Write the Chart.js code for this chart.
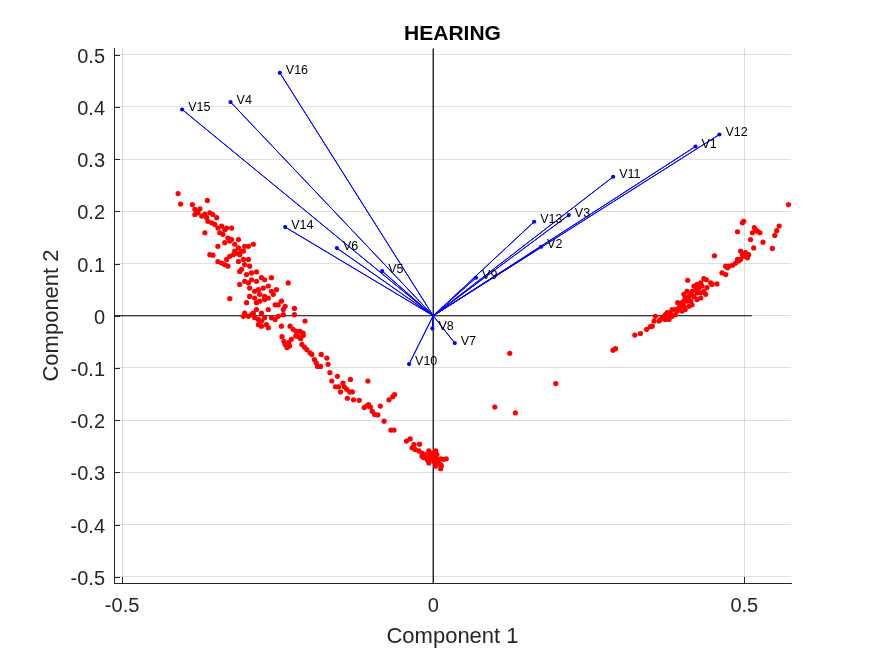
<!DOCTYPE html>
<html>
<head>
<meta charset="utf-8">
<script src="https://cdn.jsdelivr.net/npm/chart.js@4.4.1/dist/chart.umd.min.js"></script>
<style>
  html, body { margin: 0; padding: 0; background: #ffffff; }
  #wrap { width: 875px; height: 656px; }
</style>
</head>
<body>
<div id="wrap"><canvas id="c" width="875" height="656"></canvas></div>
<script>
// ---------------- DATA ----------------
const chartTitle = "HEARING";
const xAxisTitle = "Component 1";
const yAxisTitle = "Component 2";

const xTicks = [-0.5, 0, 0.5];
const xTickLabels = ["-0.5", "0", "0.5"];
const yTicks = [-0.5, -0.4, -0.3, -0.2, -0.1, 0, 0.1, 0.2, 0.3, 0.4, 0.5];
const yTickLabels = ["-0.5", "-0.4", "-0.3", "-0.2", "-0.1", "0", "0.1", "0.2", "0.3", "0.4", "0.5"];

const xLimits = [-0.513, 0.575];
const yLimits = [-0.512, 0.513];

// biplot reference axes (drawn through the origin)
const refAxis = [-0.512, 0.512];

// variable loadings (vectors)
const varNames = ["V1","V2","V3","V4","V5","V6","V7","V8","V9","V10","V11","V12","V13","V14","V15","V16"];
const loadX = [0.4215, 0.1734, 0.2179, -0.3257, -0.0820, -0.1548, 0.0346, -0.0013, 0.0689, -0.0388, 0.2892, 0.4600, 0.1622, -0.2379, -0.4035, -0.2465];
const loadY = [0.3243, 0.1322, 0.1929, 0.4094, 0.0856, 0.1297, -0.0523, -0.0243, 0.0728, -0.0925, 0.2663, 0.3473, 0.1801, 0.1699, 0.3952, 0.4655];

// observation scores [component1, component2]
const scores = [
  [-0.410,0.234],[-0.406,0.214],[-0.387,0.213],[-0.363,0.221],[-0.383,0.204],[-0.380,0.200],[-0.378,0.197],[-0.375,0.205],
  [-0.383,0.194],[-0.372,0.191],[-0.367,0.195],[-0.364,0.188],[-0.359,0.197],[-0.354,0.194],[-0.348,0.188],[-0.362,0.181],
  [-0.356,0.178],[-0.367,0.159],[-0.351,0.175],[-0.346,0.168],[-0.340,0.172],[-0.335,0.165],[-0.332,0.168],[-0.324,0.168],
  [-0.343,0.159],[-0.338,0.156],[-0.330,0.149],[-0.324,0.146],[-0.313,0.146],[-0.346,0.133],[-0.335,0.140],[-0.327,0.143],
  [-0.319,0.137],[-0.313,0.130],[-0.308,0.124],[-0.303,0.133],[-0.297,0.133],[-0.289,0.137],[-0.316,0.120],[-0.311,0.117],
  [-0.305,0.124],[-0.319,0.124],[-0.321,0.117],[-0.359,0.117],[-0.354,0.116],[-0.327,0.114],[-0.346,0.104],[-0.340,0.101],
  [-0.335,0.098],[-0.330,0.095],[-0.332,0.108],[-0.313,0.104],[-0.305,0.108],[-0.303,0.098],[-0.297,0.108],[-0.295,0.095],
  [-0.311,0.085],[-0.308,0.089],[-0.300,0.079],[-0.292,0.082],[-0.284,0.084],[-0.311,0.060],[-0.303,0.066],[-0.297,0.063],
  [-0.292,0.069],[-0.284,0.066],[-0.276,0.073],[-0.271,0.069],[-0.260,0.073],[-0.295,0.053],[-0.287,0.047],[-0.281,0.050],
  [-0.273,0.053],[-0.265,0.057],[-0.260,0.047],[-0.252,0.050],[-0.233,0.063],[-0.327,0.033],[-0.295,0.037],[-0.287,0.034],
  [-0.279,0.041],[-0.271,0.037],[-0.265,0.034],[-0.257,0.041],[-0.300,0.025],[-0.284,0.025],[-0.279,0.028],[-0.271,0.031],
  [-0.254,0.021],[-0.249,0.021],[-0.244,0.028],[-0.238,0.018],[-0.241,0.012],[-0.265,0.012],[-0.276,0.005],[-0.284,0.012],
  [-0.289,0.005],[-0.303,0.005],[-0.305,-0.001],[-0.297,-0.001],[-0.292,0.002],[-0.287,-0.004],[-0.281,-0.007],[-0.276,-0.010],
  [-0.271,-0.004],[-0.260,-0.004],[-0.254,-0.007],[-0.249,-0.001],[-0.241,0.002],[-0.223,0.014],[-0.223,0.002],[-0.206,-0.010],
  [-0.281,-0.017],[-0.276,-0.020],[-0.265,-0.023],[-0.268,-0.017],[-0.244,-0.020],[-0.230,-0.020],[-0.225,-0.026],[-0.220,-0.030],
  [-0.214,-0.030],[-0.209,-0.033],
  [-0.243,-0.040],[-0.240,-0.049],[-0.238,-0.055],[-0.235,-0.061],[-0.231,-0.058],[-0.232,-0.051],[-0.228,-0.045],[-0.221,-0.039],
  [-0.216,-0.040],[-0.213,-0.044],[-0.209,-0.038],[-0.211,-0.055],[-0.207,-0.060],[-0.203,-0.065],[-0.198,-0.071],[-0.195,-0.074],
  [-0.191,-0.084],[-0.188,-0.090],[-0.186,-0.097],[-0.181,-0.097],[-0.180,-0.074],[-0.171,-0.081],[-0.169,-0.093],[-0.166,-0.109],
  [-0.163,-0.125],[-0.154,-0.116],[-0.157,-0.136],[-0.152,-0.136],[-0.145,-0.129],[-0.143,-0.136],[-0.149,-0.146],[-0.139,-0.141],
  [-0.133,-0.122],[-0.134,-0.146],[-0.130,-0.146],[-0.138,-0.158],[-0.128,-0.161],[-0.119,-0.162],[-0.111,-0.176],[-0.107,-0.173],
  [-0.104,-0.170],[-0.101,-0.175],[-0.098,-0.183],[-0.094,-0.189],[-0.089,-0.190],[-0.085,-0.173],[-0.079,-0.202],[-0.105,-0.125],
  [-0.071,-0.161],
  [-0.065,-0.155],[-0.062,-0.151],[-0.068,-0.219],[-0.063,-0.219],[-0.043,-0.240],[-0.037,-0.236],[-0.031,-0.247],[-0.022,-0.246],
  [-0.034,-0.253],[-0.029,-0.256],[-0.023,-0.259],[-0.018,-0.263],[-0.013,-0.266],[-0.007,-0.259],[-0.005,-0.266],[-0.002,-0.263],
  [0.001,-0.268],[0.004,-0.259],[0.006,-0.266],[-0.010,-0.272],[-0.005,-0.275],[0.001,-0.279],[0.006,-0.275],[0.012,-0.274],
  [-0.015,-0.272],[-0.018,-0.269],[-0.007,-0.282],[0.004,-0.288],[0.012,-0.285],[0.012,-0.293],[0.013,-0.288],[0.017,-0.275],
  [0.021,-0.274],[-0.002,-0.272],[-0.009,-0.277],[0.005,-0.281],[0.009,-0.282],
  [0.123,-0.072],[0.099,-0.175],[0.132,-0.186],[0.197,-0.130],
  [0.571,0.213],[0.499,0.181],[0.497,0.178],[0.489,0.161],[0.516,0.169],[0.521,0.162],[0.518,0.165],[0.525,0.159],
  [0.513,0.159],[0.510,0.146],[0.556,0.172],[0.552,0.163],[0.549,0.154],[0.530,0.141],[0.545,0.129],[0.515,0.130],
  [0.494,0.124],[0.497,0.117],[0.499,0.114],[0.502,0.121],[0.505,0.111],[0.507,0.117],[0.494,0.108],[0.491,0.105],
  [0.489,0.108],[0.486,0.101],[0.481,0.097],[0.475,0.095],[0.470,0.095],[0.473,0.092],[0.464,0.082],[0.470,0.079],
  [0.452,0.115],[0.409,0.068],[0.435,0.071],[0.439,0.069],[0.446,0.063],[0.448,0.060],[0.456,0.061],[0.430,0.063],
  [0.424,0.060],[0.419,0.057],[0.432,0.057],[0.427,0.053],[0.422,0.050],[0.435,0.047],[0.430,0.044],[0.424,0.044],
  [0.416,0.047],[0.414,0.041],[0.419,0.037],[0.411,0.037],[0.405,0.034],[0.408,0.028],[0.414,0.028],[0.403,0.028],
  [0.400,0.025],[0.397,0.021],[0.403,0.018],[0.395,0.015],[0.389,0.012],[0.384,0.012],[0.392,0.009],[0.381,0.006],
  [0.376,0.006],[0.373,0.002],[0.371,-0.001],[0.376,-0.004],[0.379,-0.007],[0.373,-0.007],[0.368,-0.004],[0.365,-0.007],
  [0.363,-0.010],[0.357,-0.001],[0.355,-0.010],[0.352,-0.020],[0.349,-0.021],[0.343,-0.026],[0.333,-0.034],[0.324,-0.037],
  [0.293,-0.063],[0.289,-0.066],[0.440,0.054],[0.438,0.041],[0.430,0.034],[0.424,0.031],[0.416,0.021],[0.411,0.018],
  [0.405,0.012],[0.400,0.009],[0.389,0.002],[0.384,-0.001],[0.379,0.002],[0.408,0.047],[0.403,0.041],[0.397,0.018],
  [0.393,0.025]
];

// ---------------- BUILD ----------------
const FONT = "'Liberation Sans', Arial, Helvetica, sans-serif";
const AX_COLOR = "#262626";
const GRID_COLOR = "rgba(38,38,38,0.15)";

// star of vectors: origin -> tip -> origin -> next tip ...
const starPath = [];
loadX.forEach((x, i) => { starPath.push({x: 0, y: 0}); starPath.push({x: x, y: loadY[i]}); });
starPath.push({x: 0, y: 0});
const tips = loadX.map((x, i) => ({x: x, y: loadY[i]}));

const overlay = {
  id: "overlay",
  afterDraw(chart) {
    const ctx = chart.ctx;
    const xs = chart.scales.x, ys = chart.scales.y;
    const ca = chart.chartArea;
    ctx.save();
    // inward tick marks
    ctx.strokeStyle = AX_COLOR;
    ctx.lineWidth = 1;
    const tl = 6;
    ctx.beginPath();
    yTicks.forEach(v => {
      const p = Math.round(ys.getPixelForValue(v)) + 0.5;
      ctx.moveTo(ca.left, p); ctx.lineTo(ca.left + tl, p);
    });
    xTicks.forEach(v => {
      const p = Math.round(xs.getPixelForValue(v)) + 0.5;
      ctx.moveTo(p, ca.bottom); ctx.lineTo(p, ca.bottom - tl);
    });
    ctx.stroke();

    // vector labels
    ctx.fillStyle = "#000000";
    ctx.font = "12.5px " + FONT;
    ctx.textAlign = "left";
    ctx.textBaseline = "middle";
    const meta = chart.getDatasetMeta(1);
    meta.data.forEach((pt, i) => {
      ctx.fillText(varNames[i], pt.x + 6, pt.y - 2);
    });

    // title
    const cx = (ca.left + ca.right) / 2;
    ctx.fillStyle = "#000000";
    ctx.font = "bold 21px " + FONT;
    ctx.textAlign = "center";
    ctx.textBaseline = "alphabetic";
    ctx.fillText(chartTitle, cx, 40);

    // axis titles
    ctx.fillStyle = AX_COLOR;
    ctx.font = "22px " + FONT;
    ctx.fillText(xAxisTitle, cx, 643);
    ctx.save();
    ctx.translate(58, (ca.top + ca.bottom) / 2);
    ctx.rotate(-Math.PI / 2);
    ctx.fillText(yAxisTitle, 0, 0);
    ctx.restore();
    ctx.restore();
  }
};

new Chart(document.getElementById("c"), {
  type: "scatter",
  data: {
    datasets: [
      {
        label: "scores",
        data: scores.map(s => ({x: s[0], y: s[1]})),
        backgroundColor: "#ff0000",
        borderColor: "#ff0000",
        pointRadius: 2.6,
        pointBorderWidth: 0,
        showLine: false,
        order: 0
      },
      {
        label: "tips",
        data: tips,
        backgroundColor: "#0000ff",
        borderColor: "#0000ff",
        pointRadius: 2.1,
        pointBorderWidth: 0,
        showLine: false,
        order: 1
      },
      {
        label: "vectors",
        data: starPath,
        borderColor: "#0000ff",
        borderWidth: 1,
        pointRadius: 0,
        showLine: true,
        tension: 0,
        order: 2
      },
      {
        label: "hAxis",
        data: [{x: refAxis[0], y: 0}, {x: refAxis[1], y: 0}],
        borderColor: "#000000",
        borderWidth: 1.2,
        pointRadius: 0,
        showLine: true,
        order: 3
      },
      {
        label: "vAxis",
        data: [{x: 0, y: refAxis[0]}, {x: 0, y: refAxis[1]}],
        borderColor: "#000000",
        borderWidth: 1.2,
        pointRadius: 0,
        showLine: true,
        order: 3
      }
    ]
  },
  options: {
    responsive: false,
    animation: false,
    devicePixelRatio: 1,
    layout: { padding: { top: 48, right: 84, left: 0, bottom: 0 } },
    plugins: {
      legend: { display: false },
      tooltip: { enabled: false },
      title: { display: false }
    },
    scales: {
      x: {
        type: "linear",
        min: xLimits[0],
        max: xLimits[1],
        afterBuildTicks: (scale) => { scale.ticks = xTicks.map(v => ({value: v})); },
        afterFit: (scale) => { scale.height = 73; },
        ticks: {
          callback: (v, i) => xTickLabels[i],
          color: AX_COLOR,
          font: { family: FONT, size: 20 },
          padding: 11,
          maxRotation: 0,
          autoSkip: false
        },
        grid: { color: GRID_COLOR, drawTicks: false, lineWidth: 1 },
        border: { display: true, color: AX_COLOR, width: 1 }
      },
      y: {
        type: "linear",
        min: yLimits[0],
        max: yLimits[1],
        afterBuildTicks: (scale) => { scale.ticks = yTicks.map(v => ({value: v})); },
        afterFit: (scale) => { scale.width = 114; },
        ticks: {
          callback: (v, i) => yTickLabels[i],
          color: AX_COLOR,
          font: { family: FONT, size: 20 },
          padding: 9,
          labelOffset: 2.5,
          autoSkip: false
        },
        grid: { color: GRID_COLOR, drawTicks: false, lineWidth: 1 },
        border: { display: true, color: AX_COLOR, width: 1 }
      }
    }
  },
  plugins: [overlay]
});
</script>
</body>
</html>
